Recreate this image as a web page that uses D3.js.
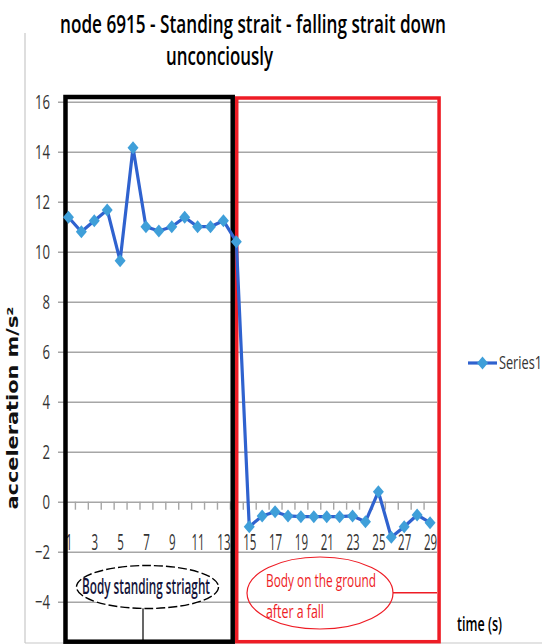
<!DOCTYPE html>
<html>
<head>
<meta charset="utf-8">
<script src="https://cdnjs.cloudflare.com/ajax/libs/d3/7.8.5/d3.min.js"></script>
<style>
  body { margin: 0; background: #fff; }
  #chart { width: 542px; height: 644px; overflow: hidden; }
</style>
</head>
<body>
<div id="chart"></div>
<script>
var seconds = [1, 2, 3, 4, 5, 6, 7, 8, 9, 10, 11, 12, 13, 14, 15,
    16, 17, 18, 19, 20, 21, 22, 23, 24, 25, 26, 27, 28, 29];
var acceleration = [11.38, 10.8, 11.24, 11.67, 9.64, 14.16, 11.0, 10.83, 11.0, 11.38,
    11.0, 11.0, 11.24, 10.4, -1.0, -0.57, -0.4, -0.57, -0.6, -0.6,
    -0.6, -0.6, -0.57, -0.8, 0.4, -1.42, -1.0, -0.53, -0.84];
var yTicks = [-4, -2, 0, 2, 4, 6, 8, 10, 12, 14, 16];
var xTickLabels = [1, 3, 5, 7, 9, 11, 13, 15, 17, 19, 21, 23, 25, 27, 29];
var titleLines = ["node 6915 - Standing strait - falling strait down", "unconciously"];
var standingLabel = "Body standing striaght";
var groundLabel = ["Body on the ground", "after a fall"];
var seriesName = "Series1";

// spans (in seconds) covered by the two phase boxes
var standingSpan = [0.77, 13.72];
var groundSpan = [14.03, 29.7];

function FallChart() {

    var self = this;

    self.initialize = function (conf) {
        self.el = document.getElementById(conf.el);
        self.width = 542;
        self.height = 644;
        self.plot = { left: 62, right: 436.5, top: 101.7, bottom: 641.7 };
        self.lineColor = "#2f62cf";
        self.markerColor = "#3f9fd9";
        self.gridColor = "#a6a6a6";

        self.data = seconds.map(function (s, i) {
            return { key: s, value: acceleration[i] };
        });

        self.xScale = d3.scaleLinear()
            .domain([0.5, 29.5])
            .range([self.plot.left, self.plot.right]);

        self.yScale = d3.scaleLinear()
            .domain([-6, 16])
            .range([651.7, 101.7]);

        self.render();
    }

    self.render = function () {
        self.svg = d3.select(self.el).append("svg")
            .attr("width", self.width)
            .attr("height", self.height);

        self.renderFrame();
        self.renderTitle();
        self.renderAxes();
        self.renderBoxes();
        self.renderSeries();
        self.renderNotes();
        self.renderLegend();
    }

    self.diamond = "M0,-6.5L5.5,0L0,6.5L-5.5,0Z";

    self.renderFrame = function () {
        self.svg.append("line")
            .attr("x1", 25).attr("x2", 25).attr("y1", 33).attr("y2", 643)
            .attr("stroke", "#c8c8c8").attr("stroke-width", 1.2);
        self.svg.append("line")
            .attr("x1", 25).attr("x2", 542).attr("y1", 643).attr("y2", 643)
            .attr("stroke", "#c8c8c8").attr("stroke-width", 1.2);
    }

    self.renderTitle = function () {
        var t = self.svg.append("g")
            .style("font-family", "'Open Sans', 'Noto Sans', sans-serif")
            .style("font-size", "25px")
            .style("font-weight", "600")
            .attr("fill", "#000");
        t.append("text").attr("x", 60).attr("y", 33)
            .attr("textLength", 386).attr("lengthAdjust", "spacingAndGlyphs")
            .text(titleLines[0]);
        t.append("text").attr("x", 166).attr("y", 65)
            .attr("textLength", 107).attr("lengthAdjust", "spacingAndGlyphs")
            .text(titleLines[1]);
    }

    self.renderAxes = function () {
        var gridWidth = 437 - self.plot.left;

        /*  y axis with gridlines  */
        var yAxis = self.svg.append("g")
            .attr("class", "y axis")
            .attr("transform", "translate(" + self.plot.left + ",0)")
            .call(d3.axisLeft(self.yScale).tickValues(yTicks)
                .tickSize(-gridWidth).tickSizeOuter(0).tickPadding(12));
        yAxis.select(".domain").remove();
        yAxis.selectAll(".tick line")
            .attr("x1", -4)
            .attr("stroke", self.gridColor)
            .attr("stroke-width", 1.6);
        yAxis.selectAll(".tick text")
            .style("font-family", "'Liberation Sans Narrow', 'Open Sans', sans-serif")
            .style("font-size", "20px")
            .attr("fill", "#333")
            .attr("textLength", function (d) { return String(d).length * 7.5; })
            .attr("lengthAdjust", "spacingAndGlyphs");

        /*  x axis tick marks between categories  */
        var bounds = seconds.slice(0, -1).map(function (s) { return s + 0.5; });
        var xTicks = self.svg.append("g")
            .attr("class", "x axis")
            .attr("transform", "translate(0," + self.yScale(0) + ")")
            .call(d3.axisBottom(self.xScale).tickValues(bounds)
                .tickSize(8).tickSizeOuter(0).tickFormat(""));
        xTicks.select(".domain").remove();
        xTicks.selectAll(".tick line")
            .attr("stroke", self.gridColor)
            .attr("stroke-width", 1.4);

        /*  x axis labels (odd seconds)  */
        var xLabels = self.svg.append("g")
            .attr("class", "x labels")
            .attr("transform", "translate(0," + self.yScale(0) + ")")
            .call(d3.axisBottom(self.xScale).tickValues(xTickLabels)
                .tickSize(0).tickPadding(33));
        xLabels.select(".domain").remove();
        xLabels.selectAll(".tick text")
            .style("font-family", "'Liberation Sans Narrow', 'Open Sans', sans-serif")
            .style("font-size", "22px")
            .attr("fill", "#333")
            .attr("textLength", function (d) { return String(d).length * 6.6; })
            .attr("lengthAdjust", "spacingAndGlyphs");

        /*  y axis title  */
        self.svg.append("text")
            .attr("transform", "translate(18,408) rotate(-90)")
            .attr("text-anchor", "middle")
            .style("font-family", "'DejaVu Sans', sans-serif")
            .style("font-size", "16px")
            .style("font-weight", "bold")
            .attr("fill", "#111")
            .attr("textLength", 203)
            .attr("lengthAdjust", "spacingAndGlyphs")
            .text("acceleration m/s\u00b2");
    }

    self.renderBoxes = function () {
        var top = 97, bottom = self.plot.bottom;
        self.svg.append("rect")
            .attr("x", self.xScale(standingSpan[0]))
            .attr("y", top)
            .attr("width", self.xScale(standingSpan[1]) - self.xScale(standingSpan[0]))
            .attr("height", bottom - top)
            .attr("fill", "none")
            .attr("stroke", "#000")
            .attr("stroke-width", 4.5);
        self.svg.append("rect")
            .attr("x", self.xScale(groundSpan[0]))
            .attr("y", top + 1)
            .attr("width", self.xScale(groundSpan[1]) - self.xScale(groundSpan[0]))
            .attr("height", bottom - top - 1)
            .attr("fill", "none")
            .attr("stroke", "#ee1c25")
            .attr("stroke-width", 3.5);
    }

    self.renderSeries = function () {
        var line = d3.line()
            .x(function (d) { return self.xScale(d.key); })
            .y(function (d) { return self.yScale(d.value); });

        self.svg.append("path")
            .datum(self.data)
            .attr("d", line)
            .attr("fill", "none")
            .attr("stroke", self.lineColor)
            .attr("stroke-width", 3.2)
            .attr("stroke-linejoin", "round");

        self.svg.selectAll(".marker")
            .data(self.data)
            .enter().append("path")
            .attr("class", "marker")
            .attr("d", self.diamond)
            .attr("transform", function (d) {
                return "translate(" + self.xScale(d.key) + "," + self.yScale(d.value) + ")";
            })
            .attr("fill", self.markerColor);
    }

    self.renderNotes = function () {
        var font = "'Open Sans', 'Noto Sans', sans-serif";

        /*  standing callout  */
        self.svg.append("line")
            .attr("x1", 143).attr("x2", 143).attr("y1", 608).attr("y2", 643)
            .attr("stroke", "#000").attr("stroke-width", 1.2);
        self.svg.append("ellipse")
            .attr("cx", 147.5).attr("cy", 587).attr("rx", 71).attr("ry", 21.5)
            .attr("fill", "#fff")
            .attr("stroke", "#000")
            .attr("stroke-width", 1.4)
            .attr("stroke-dasharray", "9,3");
        self.svg.append("text")
            .attr("x", 82).attr("y", 594)
            .attr("textLength", 128).attr("lengthAdjust", "spacingAndGlyphs")
            .style("font-family", font).style("font-size", "21px")
            .style("font-weight", "600")
            .attr("fill", "#14143a")
            .text(standingLabel);

        /*  ground callout  */
        self.svg.append("line")
            .attr("x1", 393).attr("x2", 437).attr("y1", 592.7).attr("y2", 592.7)
            .attr("stroke", "#ee1c25").attr("stroke-width", 1.4);
        self.svg.append("ellipse")
            .attr("cx", 320).attr("cy", 593).attr("rx", 73).attr("ry", 36)
            .attr("fill", "none")
            .attr("stroke", "#ee1c25")
            .attr("stroke-width", 1.2);
        var g = self.svg.append("g")
            .style("font-family", font).style("font-size", "19px")
            .attr("fill", "#ee1c25");
        g.append("text").attr("x", 266).attr("y", 587)
            .attr("textLength", 110).attr("lengthAdjust", "spacingAndGlyphs")
            .text(groundLabel[0]);
        g.append("text").attr("x", 266).attr("y", 618)
            .attr("textLength", 58).attr("lengthAdjust", "spacingAndGlyphs")
            .text(groundLabel[1]);

        /*  x axis title  */
        self.svg.append("text")
            .attr("x", 457).attr("y", 631)
            .attr("textLength", 45).attr("lengthAdjust", "spacingAndGlyphs")
            .style("font-family", font).style("font-size", "19px")
            .style("font-weight", "600")
            .attr("fill", "#000")
            .text("time (s)");
    }

    self.renderLegend = function () {
        var lg = self.svg.append("g")
            .attr("class", "legend")
            .attr("transform", "translate(468,363)");
        lg.append("line")
            .attr("x1", 0).attr("x2", 29)
            .attr("stroke", self.lineColor)
            .attr("stroke-width", 3.2);
        lg.append("path")
            .attr("d", self.diamond)
            .attr("transform", "translate(14.5,0)")
            .attr("fill", self.markerColor);
        lg.append("text")
            .attr("x", 31).attr("y", 6)
            .attr("textLength", 43).attr("lengthAdjust", "spacingAndGlyphs")
            .style("font-family", "'Liberation Sans Narrow', 'Open Sans', sans-serif")
            .style("font-size", "18px")
            .attr("fill", "#333")
            .text(seriesName);
    }
}

var chart = new FallChart();
chart.initialize({ el: "chart" });
</script>
</body>
</html>
